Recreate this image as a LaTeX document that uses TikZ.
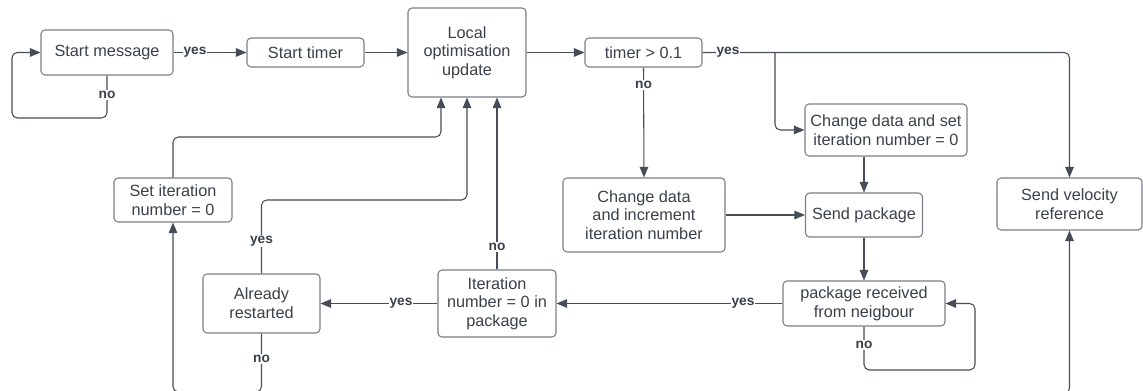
\documentclass[tikz,border=0pt]{standalone}
\usepackage{fontspec}
\setmainfont{Liberation Sans}
\usetikzlibrary{arrows.meta}
\definecolor{txt}{HTML}{3A414A}
\definecolor{ln}{HTML}{474D56}
\definecolor{bd}{HTML}{7A8089}
\tikzset{
  box/.style={draw=bd, line width=0.8pt, rounded corners=3pt, fill=white, text=txt,
    align=center, inner sep=1pt, font=\fontsize{12.2}{14}\selectfont},
  conn/.style={draw=ln, line width=0.8pt, rounded corners=4pt},
  arr/.style={conn, -{Triangle[length=8pt,width=6.5pt]}},
  lbl/.style={fill=white, text=txt, inner sep=0.6pt, font=\fontsize{10.3}{12}\selectfont\bfseries}
}
\begin{document}
\begin{tikzpicture}[x=0.75pt,y=-0.75pt]
\useasboundingbox (0,0) rectangle (1143,391);
\clip (0,0) rectangle (1143,391);
% nodes
\node[box, minimum width=99pt, minimum height=33.75pt] (sm) at (107,52.5) {Start message};
\node[box, minimum width=87.75pt, minimum height=21.75pt] (st) at (305.5,52.5) {Start timer};
\node[box, minimum width=88.5pt, minimum height=66.75pt] (lo) at (467,52.5) {Local\\optimisation\\update};
\node[box, minimum width=87.75pt, minimum height=21.75pt] (tm) at (643.5,52.5) {timer > 0.1};
\node[box, minimum width=121.5pt, minimum height=39pt] (cs) at (886,130) {Change data and set\\iteration number = 0};
\node[box, minimum width=108.75pt, minimum height=39pt] (sv) at (1069.5,204) {Send velocity\\reference};
\node[box, minimum width=121.5pt, minimum height=55.5pt] (ci) at (644,215) {Change data\\and increment\\iteration number};
\node[box, minimum width=87.75pt, minimum height=33pt] (sp) at (864,215) {Send package};
\node[box, minimum width=121.5pt, minimum height=33.75pt] (pr) at (864,303.5) {package received\\from neigbour};
\node[box, minimum width=88.5pt, minimum height=50.25pt] (it) at (497,303.5) {Iteration\\number = 0 in\\package};
\node[box, minimum width=87.75pt, minimum height=44.25pt] (ar) at (261.5,303.5) {Already\\restarted};
\node[box, minimum width=88.5pt, minimum height=33pt] (si) at (173,200) {Set iteration\\number = 0};
% connectors
\draw[arr] (sm.south) -- (107,118) -- (12,118) -- (12,52.5) -- (sm.west);
\draw[arr] (sm.east) -- (st.west);
\draw[arr] (st.east) -- (lo.west);
\draw[arr] (lo.east) -- (tm.west);
\draw[arr] (tm.east) -- (sv.north |- tm.east) -- (sv.north);
\coordinate (br) at (775,52.5);
\draw[arr] (br) -- (br |- cs.west) -- (cs.west);
\draw[arr] (tm.south) -- (ci.north);
\draw[arr] (ci.east) -- (sp.west);
\draw[arr] (sp.north |- cs.south) -- (sp.north);
\draw[arr] (sp.south) -- (pr.north);
\draw[arr] (pr.south) -- (864,370) -- (975,370) -- (975,303.5) -- (pr.east);
\draw[arr] (pr.west) -- (it.east);
\draw[arr] (it.west) -- (ar.east);
\draw[arr] (it.north) -- (it.north |- lo.south);
\draw[arr] (ar.south) -- (261.5,392) -- (173,392) -- (si.south);
\draw[arr] (ar.north) -- (261.5,200) -- (467,200) -- (467,0 |- lo.south);
\draw[arr] (si.north) -- (173,137) -- (441,137) -- (441,0 |- lo.south);
\coordinate (svin) at (1040,393.5);
\draw[arr] (svin) -- (sv.south |- svin) -- (sv.south);
% labels
\node[lbl] (l1) at (107,95) {no};
\node[lbl] (l2) at (195,52.5) {yes};
\node[lbl] (l3) at (728,52.5) {yes};
\node[lbl] (l4) at (643.5,85) {no};
\node[lbl] (l5) at (864,345) {no};
\node[lbl] (l6) at (743,303.5) {yes};
\node[lbl] (l7) at (401,303.5) {yes};
\node[lbl] (l8) at (497,247) {no};
\node[lbl] (l9) at (261.5,241) {yes};
\node[lbl] (l10) at (261.5,359) {no};
\end{tikzpicture}
\end{document}
